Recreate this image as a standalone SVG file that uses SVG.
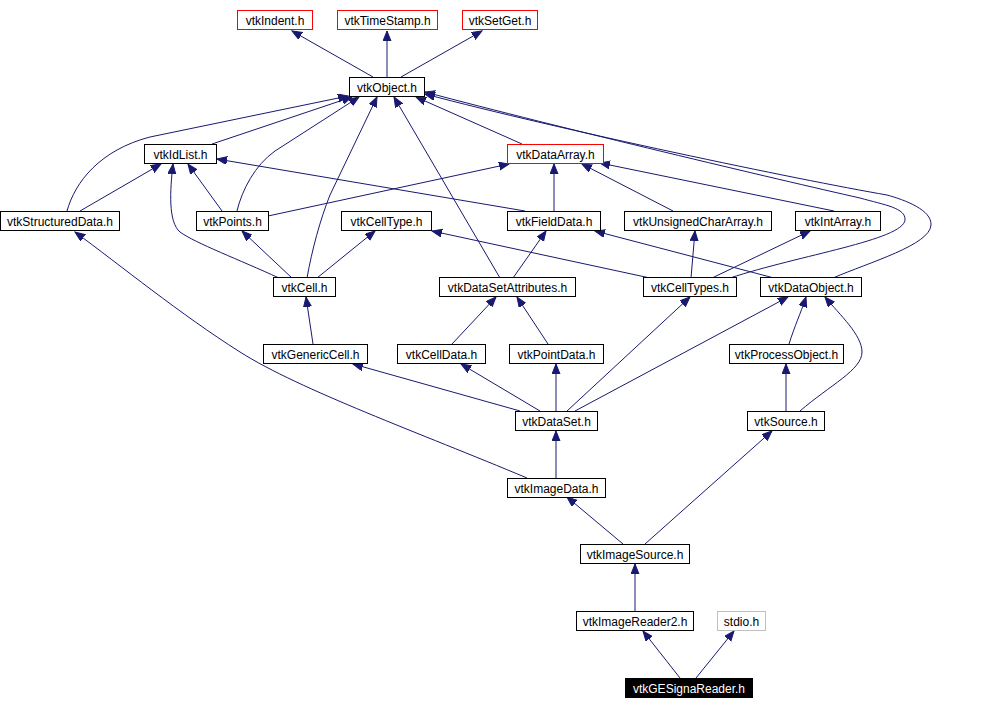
<svg xmlns="http://www.w3.org/2000/svg" width="984" height="709" viewBox="0 0 984 709">
<defs>
<marker id="ah" markerUnits="userSpaceOnUse" markerWidth="11" markerHeight="9" refX="10" refY="4" orient="auto">
<path d="M0,0 L10,4 L0,8 z" fill="#191970" stroke="#191970" stroke-width="1"/>
</marker>
<style>
.n rect{fill:#fff;stroke:#000;stroke-width:1}
.n.r rect{stroke:#ff0000}
.n.g rect{stroke:#bfbfbf}
.n.b rect{fill:#000;stroke:#000}
.n text{font-family:"Liberation Sans",Arial,sans-serif;font-size:12px;text-anchor:middle;fill:#000}
.n.b text{fill:#fff}
#edges path{fill:none;stroke:#191970;stroke-width:1;marker-end:url(#ah)}
</style>
</defs>
<rect width="984" height="709" fill="#fff"/>
<g id="edges">
<path d="M373,77 L292,31"/>
<path d="M387,77 L387,31"/>
<path d="M401,77 L482,31"/>
<path d="M212,144 L352,97"/>
<path d="M67,211 C75,182 100,150 150,137 L348,96"/>
<path d="M80,211 L161,164"/>
<path d="M237,211 C242,190 255,165 275,151 L359,97"/>
<path d="M222,211 L188,164"/>
<path d="M268,216 L509,164"/>
<path d="M307,278 C312,250 320,220 330,195 L377,97"/>
<path d="M279,278 C240,260 195,243 180,232 C168,222 170,190 173,164"/>
<path d="M292,278 L242,231"/>
<path d="M317,278 L375,231"/>
<path d="M525,211 L217,159"/>
<path d="M554,211 L554,164"/>
<path d="M522,144 L416,97"/>
<path d="M500,278 L394,97"/>
<path d="M513,278 L546,231"/>
<path d="M673,211 L582,164"/>
<path d="M834,211 L600,163"/>
<path d="M730,278 C800,255 903,240 905,220 C906,208 885,205 860,198 C780,180 560,128 425,92"/>
<path d="M833,278 C870,262 930,245 931,225 C932,210 905,200 887,195 C800,180 560,130 425,94"/>
<path d="M712,278 L810,231"/>
<path d="M691,278 L695,231"/>
<path d="M650,278 L432,231"/>
<path d="M774,278 L595,231"/>
<path d="M313,344 L306,297"/>
<path d="M452,344 L496,297"/>
<path d="M548,344 L517,297"/>
<path d="M789,344 C795,325 800,315 806,297"/>
<path d="M800,411 C830,385 862,370 862,352 C862,335 840,315 825,297"/>
<path d="M786,411 L786,364"/>
<path d="M520,411 L353,364"/>
<path d="M540,411 L461,364"/>
<path d="M556,411 L556,364"/>
<path d="M567,411 L690,297"/>
<path d="M575,411 L788,297"/>
<path d="M527,478 C420,433 300,390 240,352 C180,314 120,265 75,232"/>
<path d="M556,478 L556,431"/>
<path d="M623,544 L567,497"/>
<path d="M645,544 L772,431"/>
<path d="M635,611 L635,564"/>
<path d="M680,678 L643,631"/>
<path d="M696,678 L734,631"/>
</g>
<g id="vtkIndent" class="n r"><rect x="237.5" y="10.5" width="75" height="19"/><text x="275" y="25">vtkIndent.h</text></g>
<g id="vtkTimeStamp" class="n r"><rect x="337.5" y="10.5" width="100" height="19"/><text x="387.5" y="25">vtkTimeStamp.h</text></g>
<g id="vtkSetGet" class="n r"><rect x="462.5" y="10.5" width="75" height="19"/><text x="500" y="25">vtkSetGet.h</text></g>
<g id="vtkObject" class="n"><rect x="349.5" y="77.5" width="75" height="19"/><text x="387" y="92">vtkObject.h</text></g>
<g id="vtkIdList" class="n"><rect x="144.5" y="144.5" width="72" height="19"/><text x="180.5" y="159">vtkIdList.h</text></g>
<g id="vtkDataArray" class="n r"><rect x="507.5" y="144.5" width="96" height="19"/><text x="555.5" y="159">vtkDataArray.h</text></g>
<g id="vtkStructuredData" class="n"><rect x="0.5" y="211.5" width="119" height="19"/><text x="60" y="226">vtkStructuredData.h</text></g>
<g id="vtkPoints" class="n"><rect x="196.5" y="211.5" width="72" height="19"/><text x="232.5" y="226">vtkPoints.h</text></g>
<g id="vtkCellType" class="n"><rect x="341.5" y="211.5" width="90" height="19"/><text x="386.5" y="226">vtkCellType.h</text></g>
<g id="vtkFieldData" class="n"><rect x="507.5" y="211.5" width="93" height="19"/><text x="554" y="226">vtkFieldData.h</text></g>
<g id="vtkUnsignedCharArray" class="n"><rect x="624.5" y="211.5" width="147" height="19"/><text x="698" y="226">vtkUnsignedCharArray.h</text></g>
<g id="vtkIntArray" class="n"><rect x="795.5" y="211.5" width="85" height="19"/><text x="838" y="226">vtkIntArray.h</text></g>
<g id="vtkCell" class="n"><rect x="273.5" y="277.5" width="62" height="19"/><text x="304.5" y="292">vtkCell.h</text></g>
<g id="vtkDataSetAttributes" class="n"><rect x="439.5" y="277.5" width="136" height="19"/><text x="507.5" y="292">vtkDataSetAttributes.h</text></g>
<g id="vtkCellTypes" class="n"><rect x="643.5" y="277.5" width="93" height="19"/><text x="690" y="292">vtkCellTypes.h</text></g>
<g id="vtkDataObject" class="n"><rect x="760.5" y="277.5" width="101" height="19"/><text x="811" y="292">vtkDataObject.h</text></g>
<g id="vtkGenericCell" class="n"><rect x="263.5" y="344.5" width="104" height="19"/><text x="315.5" y="359">vtkGenericCell.h</text></g>
<g id="vtkCellData" class="n"><rect x="397.5" y="344.5" width="88" height="19"/><text x="441.5" y="359">vtkCellData.h</text></g>
<g id="vtkPointData" class="n"><rect x="509.5" y="344.5" width="94" height="19"/><text x="556.5" y="359">vtkPointData.h</text></g>
<g id="vtkProcessObject" class="n"><rect x="729.5" y="344.5" width="114" height="19"/><text x="786.5" y="359">vtkProcessObject.h</text></g>
<g id="vtkDataSet" class="n"><rect x="515.5" y="411.5" width="82" height="19"/><text x="556.5" y="426">vtkDataSet.h</text></g>
<g id="vtkSource" class="n"><rect x="747.5" y="411.5" width="77" height="19"/><text x="786" y="426">vtkSource.h</text></g>
<g id="vtkImageData" class="n"><rect x="507.5" y="478.5" width="98" height="19"/><text x="556.5" y="493">vtkImageData.h</text></g>
<g id="vtkImageSource" class="n"><rect x="580.5" y="544.5" width="109" height="19"/><text x="635" y="559">vtkImageSource.h</text></g>
<g id="vtkImageReader2" class="n"><rect x="576.5" y="611.5" width="117" height="19"/><text x="635" y="626">vtkImageReader2.h</text></g>
<g id="stdio" class="n g"><rect x="717.5" y="611.5" width="48" height="19"/><text x="741.5" y="626">stdio.h</text></g>
<g id="vtkGESignaReader" class="n b"><rect x="625.5" y="678.5" width="127" height="19"/><text x="689" y="693">vtkGESignaReader.h</text></g>
</svg>
